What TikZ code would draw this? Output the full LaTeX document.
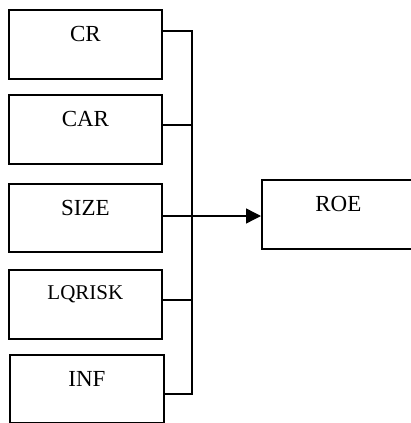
\documentclass[tikz,border=0pt]{standalone}
\usepackage{fontspec}
\setmainfont{Liberation Serif}
\usetikzlibrary{arrows.meta}

\tikzset{
  var/.style={draw, line width=1.8pt, minimum width=153pt, inner sep=0pt,
    text height=32pt, text depth=37pt, anchor=north west,
    font=\fontsize{23}{26}\selectfont},
  link/.style={line width=1.4pt}
}

\begin{document}
\begin{tikzpicture}[x=1pt,y=-1pt]
    \useasboundingbox (0,0) rectangle (411,423);

    % explanatory variables
    \node [var] (cr) at (8,9) {CR};
    \node [var] (car) at (8,94) {CAR};
    \node [var, text depth=36pt] (size) at (8,183) {SIZE};
    \node [var, font=\fontsize{21}{24}\selectfont, text height=30pt, text depth=39pt] (lqrisk) at (8,269) {LQRISK};
    \node [var, minimum width=154pt, text depth=36pt] (inf) at (9,354) {INF};

    % dependent variable
    \node [var] (roe) at (261,179) {ROE};

    % collecting line
    \coordinate (b1) at (192,31);
    \coordinate (b2) at (192,125);
    \coordinate (b3) at (192,216);
    \coordinate (b4) at (192,300);
    \coordinate (b5) at (192,394);

    \draw [link] (b1 -| cr.east) -- (b1) -- (b5) -- (b5 -| inf.east);
    \draw [link] (b2 -| car.east) -- (b2);
    \draw [link] (b4 -| lqrisk.east) -- (b4);
    \draw [link, -{Triangle[length=15pt,width=15pt]}] (b3 -| size.east) -- (b3 -| roe.west);
\end{tikzpicture}
\end{document}
